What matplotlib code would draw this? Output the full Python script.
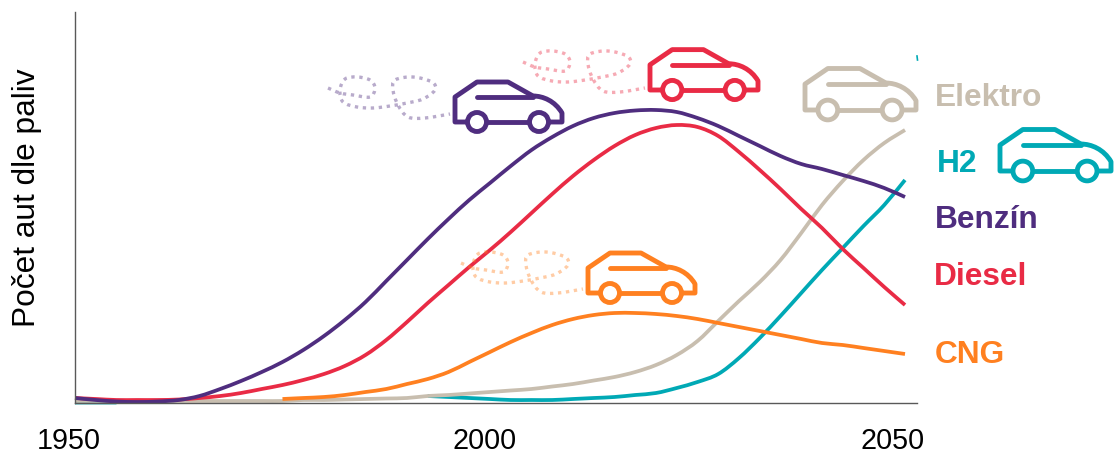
import numpy as np
import matplotlib
matplotlib.use("Agg")
import matplotlib.pyplot as plt
from matplotlib.path import Path
from matplotlib.patches import PathPatch, Circle
from matplotlib.transforms import ScaledTranslation

plt.rcParams['font.family'] = ['Liberation Sans', 'DejaVu Sans']

nan = float('nan')
years = [1950 + 2.5 * i for i in range(41)]
benzin = [5, 3, 1.5, 1, 1.5, 3, 7, 14, 22, 31, 41, 53, 67, 83, 101, 122, 143, 164, 184, 203, 220,
          237, 253, 266, 277, 285, 290, 292.5, 293, 291, 285, 277, 267, 257, 247, 239, 234, 228, 222, 215, 206]
diesel = [5, 4, 3, 3, 3, 3.5, 5, 7, 10, 14, 18, 23, 29, 37, 48, 63, 81, 100, 118, 136, 153,
          171, 190, 209, 227, 243, 257, 268, 275, 278, 276, 267, 251, 233, 214, 194, 175, 154, 135, 116, 98]
cng = [nan] * 10 + [4, 5, 6, 8, 11, 14, 19, 24, 31, 41, 51, 61, 70, 78, 84, 88, 90, 90, 89, 87, 84,
                    80, 76, 72, 68, 64, 60, 58, 55, 52, 49]
elektro = [2, 2, 2, 2, 2, 2, 2, 2, 2, 2, 2, 3, 3, 3.5, 4, 4.5, 5, 7, 8, 9.5, 11, 12.5, 14, 16.5, 19,
           22.5, 26, 31, 38, 48, 62, 82, 102, 121, 143, 170, 198, 222, 243, 260, 273]
h2 = [0.5, 0.5, 0.5] + [nan] * 14 + [7, 6, 5, 4, 3, 3, 3, 4, 5, 6, 8, 10, 15, 21, 29, 45, 65, 87, 110,
                                     133, 155, 177, 198, 223]
tick_years = [1950, 2000, 2050]
tick_labels = ['1950', '2000', '2050']
series_names = ['Elektro', 'H2', 'Benzín', 'Diesel', 'CNG']

PURPLE, RED, ORANGE, GRAY, TEAL = '#4F2D7F', '#E92B45', '#FF8020', '#C8BEAF', '#00A9B5'
W, H = 1115, 455


def smooth_path(xs, ys):
    """Bezier path passing through the given points (Catmull-Rom tangents), broken at gaps."""
    verts, codes = [], []
    run = []
    for x, y in list(zip(xs, ys)) + [(nan, nan)]:
        if np.isnan(y):
            if len(run) > 1:
                p = np.array(run, float)
                verts.append(tuple(p[0]))
                codes.append(Path.MOVETO)
                for i in range(len(p) - 1):
                    a, b = p[max(i - 1, 0)], p[min(i + 2, len(p) - 1)]
                    verts += [tuple(p[i] + (p[i + 1] - a) / 6), tuple(p[i + 1] - (b - p[i]) / 6), tuple(p[i + 1])]
                    codes += [Path.CURVE4] * 3
            run = []
        else:
            run.append((x, y))
    return Path(verts, codes)


fig = plt.figure(figsize=(W / 100, H / 100), dpi=100)
ax = fig.add_axes([75 / W, (H - 403) / H, 842 / W, 391 / H])
ax.set_xlim(1950, 1950 + 842 / 8.3)
ax.set_ylim(0, 391)

for vals, col in [(h2, TEAL), (elektro, GRAY), (cng, ORANGE), (diesel, RED), (benzin, PURPLE)]:
    ax.add_patch(PathPatch(smooth_path(years, vals), fc='none', ec=col, lw=2.7, clip_on=False,
                           capstyle='butt', joinstyle='round'))

for s in ['top', 'right']:
    ax.spines[s].set_visible(False)
for s in ['left', 'bottom']:
    ax.spines[s].set_color('#595959')
    ax.spines[s].set_linewidth(1.0)
ax.set_yticks([])
ax.set_xticks(tick_years, tick_labels, fontsize=20.7)
ax.tick_params(axis='x', length=0, pad=17.5, labelcolor='black')
for lab, dx in zip(ax.get_xticklabels(), [-6.5, -5, -12]):
    lab.set_transform(lab.get_transform() + ScaledTranslation(dx / 100, 0, fig.dpi_scale_trans))
ax.set_ylabel('Počet aut dle paliv', fontsize=22.8, color='black')
ax.yaxis.set_label_coords((42 - 75) / 842, (403 - 197.5) / 391)

# overlay in pixel coordinates for the decorative car icons and direct labels
ov = fig.add_axes([0, 0, 1, 1], facecolor='none')
ov.set_xlim(0, W)
ov.set_ylim(H, 0)
ov.axis('off')

TRAIL = [(-127, -34), (-115, -29), (-102, -27), (-85, -25), (-80, -34), (-85, -42), (-98, -45), (-110, -43),
         (-115, -32), (-112, -20), (-98, -15), (-82, -14), (-65, -16), (-48, -19), (-32, -23), (-20, -32),
         (-23, -40), (-42, -45), (-60, -42), (-62, -32), (-57, -17), (-47, -5), (-30, -4), (-5, -8)]


def car(x0, y0, width, col, trail_dy=None):
    k = width / 107
    lw = 3.5
    def P(pts):
        return [(x0 + k * a, y0 + k * b) for a, b in pts]
    verts = P([(13, 0), (0, 0), (0, -25), (22, -40), (53, -40), (78, -26), (88, -26), (100, -21), (107, -9),
               (107, 0), (93, 0)])
    codes = [Path.MOVETO] + [Path.LINETO] * 5 + [Path.CURVE4] * 3 + [Path.LINETO] * 2
    ov.add_patch(PathPatch(Path(verts, codes), fc='none', ec=col, lw=lw, joinstyle='round', capstyle='round'))
    for seg in ([(31, 0), (75, 0)], [(22, -25), (78, -25)]):
        xs, ys = zip(*P(seg))
        ov.plot(xs, ys, color=col, lw=lw, solid_capstyle='round')
    for cx in (22, 84):
        (a, b), = P([(cx, 0)])
        ov.add_patch(Circle((a, b), 9.5 * k, fc='white', ec=col, lw=lw, zorder=3))
    if trail_dy is not None:
        xs, ys = zip(*[(x0 + a, y0 + b + trail_dy) for a, b in TRAIL])
        ov.add_patch(PathPatch(smooth_path(xs, ys), fc='none', ec=col, alpha=0.4, lw=2.4,
                               linestyle=(0, (1, 1.4)), capstyle='butt'))


car(455, 122, 107, PURPLE, 0)
car(650, 90, 108, RED, 6)
car(588, 293, 107, ORANGE, 4)
car(805, 110, 111, GRAY)
car(1000, 171, 111, TEAL)
ov.plot([917, 917.5], [56, 60], color=TEAL, lw=1.2)

for name, x, y, col in zip(series_names, [935, 937, 935, 934, 935], [98, 164, 220, 277, 355],
                           [GRAY, TEAL, PURPLE, RED, ORANGE]):
    ov.text(x, y, name, color=col, fontsize=22.8, fontweight='bold', va='center', ha='left')

fig.savefig('out.png', dpi=100)
